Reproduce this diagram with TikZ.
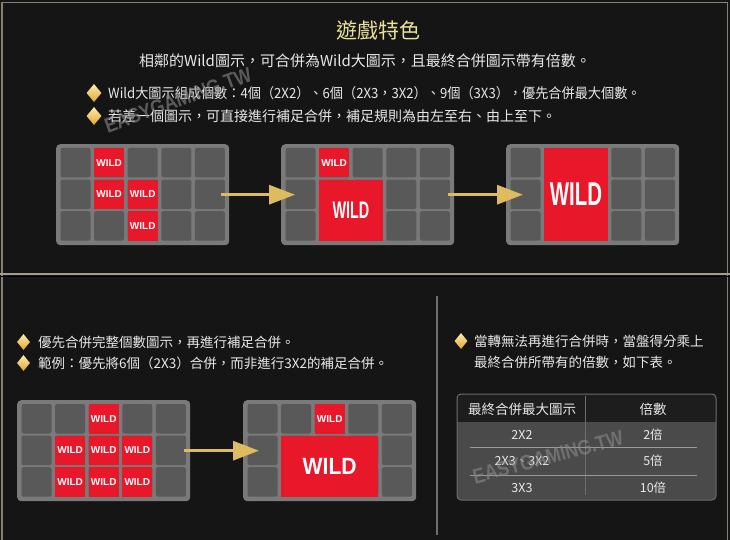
\documentclass[tikz,border=0pt]{standalone}
\usepackage{fontspec}
\setmainfont{Noto Sans CJK TC}
\newfontfamily\wildfont{Liberation Sans}
\usetikzlibrary{arrows.meta,shapes.geometric,calc}
\definecolor{bgc}{HTML}{151515}
\definecolor{framec}{HTML}{858070}
\definecolor{sepc}{HTML}{A29D90}
\definecolor{titlec}{HTML}{E9E29C}
\definecolor{txtc}{HTML}{E8E8E8}
\definecolor{gridc}{HTML}{7A7A7A}
\definecolor{cellc}{HTML}{595959}
\definecolor{wildc}{HTML}{E8182A}
\definecolor{goldc}{HTML}{DDBB5E}
\definecolor{golddark}{HTML}{E0A634}
\definecolor{goldlight}{HTML}{FFEDA8}
\definecolor{tabbody}{HTML}{4A4A4A}
\definecolor{tabhead}{HTML}{1D1D1D}
\definecolor{tabline}{HTML}{9A9A9A}
\definecolor{divc}{HTML}{6E6E6E}
\definecolor{wmc}{HTML}{8A8A8A}
\newcommand\fs[1]{\fontsize{#1}{#1}\selectfont}
\newcommand\gridcells{\foreach \i in {0,...,4}{\foreach \j in {0,...,2}{\fill[cellc,rounded corners=2pt] ({4.5+\i*33.6},{4+\j*31.6}) rectangle ++(30,29.5);}}}
\newcommand\wcell[3]{\fill[wildc] ({4.5+#2*33.6},{4+#3*31.6}) rectangle ++(30,29.5);
  \node[smallwild] (#1) at ({19.5+#2*33.6},{18.75+#3*31.6}) {WILD};}
\newcommand\bigwild[7]{\fill[wildc] ({4.5+#2*33.6},{4+#3*31.6}) rectangle ({34.5+#4*33.6},{33.5+#5*31.6});
  \node[bigw, font=\wildfont\bfseries\fs{#6}] (#1) at ({(39+#2*33.6+#4*33.6)/2},{(37.5+#3*31.6+#5*31.6)/2}) {\scalebox{#7}[1]{WILD}};}
\begin{document}
\begin{tikzpicture}[x=1pt,y=-1pt,
  gridbox/.style={fill=gridc, rounded corners=4pt, minimum width=173pt, minimum height=101pt, inner sep=0pt, anchor=north west},
  smallwild/.style={font=\wildfont\bfseries\fs{10}, text=white, inner sep=0pt},
  bigw/.style={text=white, inner sep=0pt},
  goldarrow/.style={line width=3pt, draw=goldc, -{Triangle[length=26pt,width=19pt,fill=goldc]}},
  txt/.style={text=txtc, inner sep=0pt},
  bul/.style={diamond, top color=goldlight, bottom color=golddark, draw=none, inner sep=0pt, minimum width=15pt, minimum height=18pt},
  bulsm/.style={bul, minimum width=13pt, minimum height=16pt},
  wm/.style={text=wmc, opacity=0.6, font=\wildfont\bfseries\fs{21}, inner sep=0pt},
  tabtxt/.style={text=txtc, inner sep=0pt, font=\fs{12.5}}
]
\useasboundingbox (0,0) rectangle (730,540);
\fill[bgc] (0,0) rectangle (730,540);
% frame
\draw[framec, line width=1.5pt] (2,545) -- (2,2.5) -- (727.5,2.5) -- (727.5,545);
\draw[sepc, line width=2pt] (0,273.5) -- (730,273.5);
\draw[black, line width=1pt] (0,276) -- (730,276);

% top texts
\node[text=titlec, font=\fs{21}, inner sep=0pt] (title) at (378,30) {遊戲特色};
\node[txt, font=\fs{15}] (intro) at (365,61) {相鄰的Wild圖示，可合併為Wild大圖示，且最終合併圖示帶有倍數。};
\node[bul] (d1) at (94,93) {};
\node[txt, anchor=west, font=\fs{14}] (t1) at (108,93) {\scalebox{0.94}[1]{Wild大圖示組成個數：4個（2X2）、6個（2X3，3X2）、9個（3X3），優先合併最大個數。}};
\node[bul] (d2) at (94,116) {};
\node[txt, anchor=west, font=\fs{14}] (t2) at (108,116) {若差一個圖示，可直接進行補足合併，補足規則為由左至右、由上至下。};

% top grids
\node[gridbox] (g1) at (56,144) {};
\begin{scope}[shift={(56,144)}]
\gridcells
\wcell{w11}{1}{0}\wcell{w12}{1}{1}\wcell{w13}{2}{1}\wcell{w14}{2}{2}
\end{scope}
\node[gridbox] (g2) at (281,144) {};
\begin{scope}[shift={(281,144)}]
\gridcells
\wcell{w21}{1}{0}
\bigwild{w22}{1}{1}{2}{2}{24}{0.6}
\end{scope}
\node[gridbox] (g3) at (506,144) {};
\begin{scope}[shift={(506,144)}]
\gridcells
\bigwild{w31}{1}{0}{2}{2}{33}{0.62}
\end{scope}
\draw[goldarrow] ($(g1.east)+(-8,0)$) -- ($(g2.west)+(14,0)$);
\draw[goldarrow] ($(g2.east)+(-6,0)$) -- ($(g3.west)+(17,0)$);

% bottom left
\node[bulsm] (d3) at (23.5,342) {};
\node[txt, anchor=west, font=\fs{13.5}] (t3) at (38,342) {優先合併完整個數圖示，再進行補足合併。};
\node[bulsm] (d4) at (23.5,363) {};
\node[txt, anchor=west, font=\fs{13.5}] (t4) at (38,363) {範例：優先將6個（2X3）合併，而非進行3X2的補足合併。};

\node[gridbox] (g4) at (17,400) {};
\begin{scope}[shift={(17,400)}]
\gridcells
\wcell{w41}{2}{0}\wcell{w42}{1}{1}\wcell{w43}{2}{1}\wcell{w44}{3}{1}
\wcell{w45}{1}{2}\wcell{w46}{2}{2}\wcell{w47}{3}{2}
\end{scope}
\node[gridbox] (g5) at (243,400) {};
\begin{scope}[shift={(243,400)}]
\gridcells
\wcell{w51}{2}{0}
\bigwild{w52}{1}{1}{3}{2}{23.5}{0.9}
\end{scope}
\draw[goldarrow] ($(g4.east)+(-6,0)$) -- ($(g5.west)+(16,0)$);

% divider
\draw[divc, line width=1.5pt] (437,296) -- (437,535);

% bottom right
\node[bulsm] (d5) at (461,341) {};
\node[txt, anchor=west, font=\fs{13.5}] (t5) at (474,341) {當轉無法再進行合併時，當盤得分乘上};
\node[txt, anchor=west, font=\fs{13.5}] (t6) at (474,362) {最終合併所帶有的倍數，如下表。};

% table
\begin{scope}
\clip[rounded corners=4pt] (457,394) rectangle (716,500);
\fill[tabbody] (457,394) rectangle (716,500);
\fill[tabhead] (457,394) rectangle (716,422);
\end{scope}
\draw[divc, rounded corners=4pt, line width=1pt] (457,394) rectangle (716,500);
\draw[divc, line width=1pt] (585,396) -- (585,495);
\draw[tabline, line width=0.9pt] (470,447) -- (697,447);
\draw[tabline, line width=0.9pt] (470,475) -- (697,475);
\node[tabtxt, font=\fs{13.5}] (h1) at (522,409) {最終合併最大圖示};
\node[tabtxt, font=\fs{13.5}] (h2) at (653,409) {倍數};
\node[tabtxt] (r1a) at (522,435) {2X2};
\node[tabtxt] (r1b) at (653,435) {2倍};
\node[tabtxt] (r2a) at (522,461) {2X3、3X2};
\node[tabtxt] (r2b) at (653,461) {5倍};
\node[tabtxt] (r3a) at (522,488) {3X3};
\node[tabtxt] (r3b) at (653,488) {10倍};

% watermarks
\node[wm, rotate=20] (wm1) at (178,100) {\scalebox{0.85}[1]{EASYGAMING.TW}};
\node[wm, rotate=15] (wm2) at (548,457) {\scalebox{0.85}[1]{EASYGAMING.TW}};
\end{tikzpicture}
\end{document}
